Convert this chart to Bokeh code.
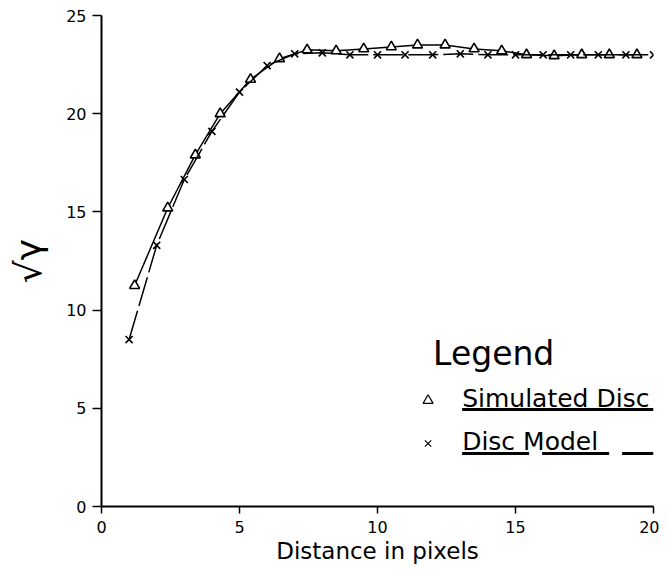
from bokeh.plotting import figure
from bokeh.models import Label, FixedTicker, Range1d
from bokeh.embed import file_html
from bokeh.resources import INLINE

# ---- data ----
sim_x = [1.2, 2.4, 3.4, 4.3, 5.4, 6.45, 7.45, 8.5, 9.5, 10.5, 11.45, 12.45,
         13.5, 14.5, 15.4, 16.4, 17.4, 18.4, 19.4]
sim_y = [11.25, 15.2, 17.9, 20.0, 21.75, 22.8, 23.25, 23.2, 23.3, 23.4, 23.5,
         23.5, 23.3, 23.2, 23.0, 22.95, 23.0, 23.0, 23.0]

model_x = list(range(1, 21))
model_y = [8.5, 13.3, 16.65, 19.1, 21.1, 22.45, 23.05, 23.1, 23.0, 23.0, 23.0,
           23.0, 23.05, 23.0, 23.0, 23.0, 23.0, 23.0, 23.0, 23.0]

x_ticks = [0, 5, 10, 15, 20]
y_ticks = [0, 5, 10, 15, 20, 25]

legend_title = "Legend"
legend_labels = ["Simulated Disc", "Disc Model"]

FONT = "DejaVu Sans"

p = figure(width=659, height=567, output_backend="svg", toolbar_location=None,
           x_range=Range1d(0, 20), y_range=Range1d(0, 25),
           min_border_left=101, min_border_right=6, min_border_top=15,
           min_border_bottom=61)
p.outline_line_color = None
p.grid.visible = False
p.background_fill_color = "white"
p.border_fill_color = "white"

# series
p.line(sim_x, sim_y, line_color="black", line_width=1.5)
p.scatter(sim_x, sim_y, marker="triangle", size=10, fill_color="white",
          line_color="black", line_width=1.6)
p.line(model_x, model_y, line_color="black", line_width=1.5, line_dash="30 5")
p.scatter(model_x, model_y, marker="x", size=10, line_color="black",
          line_width=1.6)

# axes
for ax in (p.xaxis[0], p.yaxis[0]):
    ax.axis_line_width = 2
    ax.axis_line_color = "black"
    ax.major_tick_line_color = "black"
    ax.major_tick_line_width = 1.5
    ax.minor_tick_line_color = None
    ax.major_tick_in = 0
    ax.major_label_text_font = FONT
    ax.major_label_text_font_size = "16px"
    ax.major_label_text_color = "black"
    ax.axis_label_text_font = FONT
    ax.axis_label_text_font_style = "normal"
    ax.axis_label_text_color = "black"

p.xaxis.ticker = FixedTicker(ticks=x_ticks)
p.yaxis.ticker = FixedTicker(ticks=y_ticks)
p.xaxis.major_tick_out = 7
p.yaxis.major_tick_out = 9
p.xaxis.major_label_standoff = 7
p.yaxis.major_label_standoff = 6
p.xaxis.axis_label = "Distance in pixels"
p.xaxis.axis_label_text_font_size = "23px"
p.xaxis.axis_label_standoff = 2
p.yaxis.axis_label = "√γ"
p.yaxis.axis_label_text_font_size = "36px"
p.yaxis.axis_label_standoff = 14

# ---- custom legend (positions in data space of the frame) ----
def dx(px):
    return (px - 102) / 27.55

def dy(py):
    return (506 - py) / 19.64

p.add_layout(Label(x=dx(433), y=dy(353), text=legend_title, text_font=FONT,
                   text_font_size="33px", text_baseline="middle", text_align="left",
                   text_color="black"))
p.add_layout(Label(x=dx(462), y=dy(398), text=legend_labels[0], text_font=FONT,
                   text_font_size="25px", text_baseline="middle", text_align="left",
                   text_color="black"))
p.add_layout(Label(x=dx(462), y=dy(441), text=legend_labels[1], text_font=FONT,
                   text_font_size="25px", text_baseline="middle", text_align="left",
                   text_color="black"))

p.scatter([dx(428)], [dy(400)], marker="triangle", size=10, fill_color="white",
          line_color="black", line_width=1.2)
p.scatter([dx(428)], [dy(443)], marker="x", size=9, line_color="black",
          line_width=1.2)
p.line([dx(462), dx(653)], [dy(409), dy(409)], line_color="black", line_width=3)
p.line([dx(462), dx(653)], [dy(453), dy(453)], line_color="black", line_width=3,
       line_dash="67 13")

open("out.html", "w").write(file_html(p, INLINE))
